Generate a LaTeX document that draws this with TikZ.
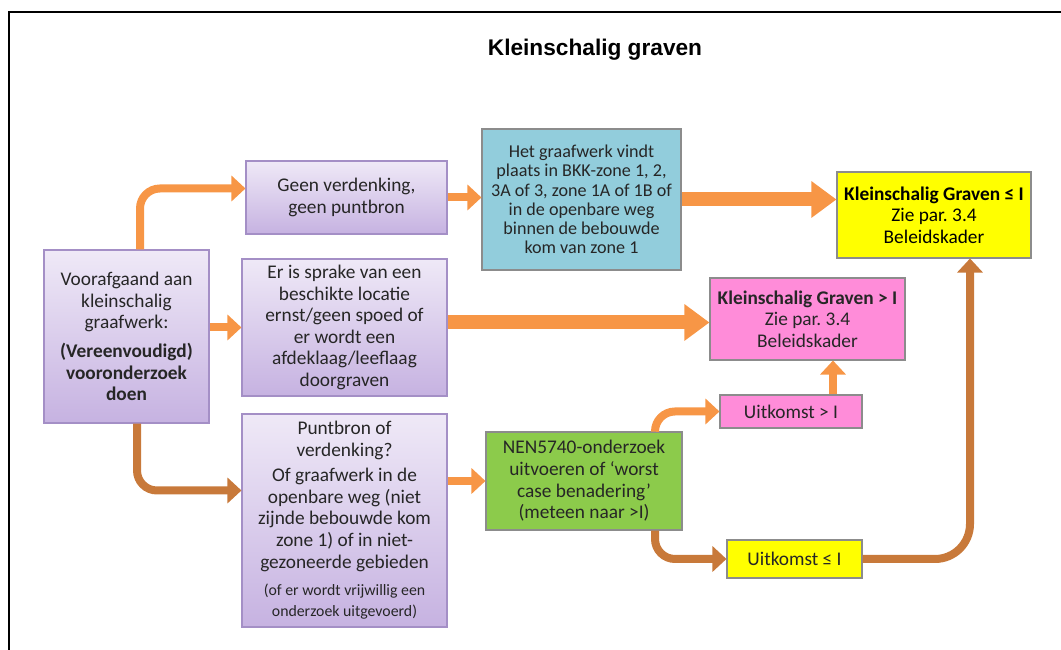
\documentclass[tikz,border=0pt]{standalone}
\usepackage{fontspec}
\setmainfont{Carlito}
\newfontfamily\titelfont{Liberation Sans}
\usetikzlibrary{arrows.meta,shadows}
\frenchspacing

\definecolor{paars1}{HTML}{EFE9F7}
\definecolor{paars2}{HTML}{C6B2E1}
\definecolor{paarsrand}{HTML}{A48FC6}
\definecolor{blauw}{HTML}{92CDDC}
\definecolor{geel}{HTML}{FFFF00}
\definecolor{roze}{HTML}{FF8CD9}
\definecolor{groen}{HTML}{8CCB4B}
\definecolor{oranje}{HTML}{F79646}
\definecolor{bruin}{HTML}{C8793A}

\begin{document}
\begin{tikzpicture}[
  blok/.style={line width=0.6pt, align=center, inner sep=1pt, text=black!85,
    font=\fontsize{11}{12.3}\selectfont,
    drop shadow={opacity=0.25,shadow xshift=0.8pt,shadow yshift=-0.8pt}},
  paars/.style={blok, draw=paarsrand, top color=paars1, bottom color=paars2},
  vlak/.style={blok, draw=black!45, fill=#1},
  pijl/.style={oranje, line width=0.16cm, rounded corners=0.4cm,
    -{Triangle[length=0.28cm,width=0.5cm]}},
  dikkepijl/.style={oranje, line width=0.28cm,
    -{Triangle[length=0.5cm,width=0.7cm]}},
  bruinepijl/.style={pijl, bruin}
]
\useasboundingbox (0,0) rectangle (21.22,13);
%\draw[step=1cm,gray,very thin] (0,0) grid (21.22,13); %background grid
\draw[line width=1.2pt] (0.18,0) -- (0.18,12.76) -- (21.22,12.76);

\node (titel) at (11.9,12.0) {\titelfont\bfseries\fontsize{12.9}{15}\selectfont Kleinschalig graven};

% linker kolom
\node[paars, minimum width=3.3cm, minimum height=3.46cm] (voor) at (2.53,6.27)
  {Voorafgaand aan\\ kleinschalig\\ graafwerk:\\[4pt] \textbf{(Vereenvoudigd)}\\ \textbf{vooronderzoek}\\ \textbf{doen}};

% middelste kolom
\node[paars, minimum width=4.02cm, minimum height=1.46cm] (geen) at (6.93,9.05)
  {Geen verdenking,\\ geen puntbron};
\node[paars, minimum width=4.1cm, minimum height=2.74cm] (sprake) at (6.89,6.45)
  {Er is sprake van een\\ beschikte locatie\\ ernst/geen spoed of\\ er wordt een\\ afdeklaag/leeflaag\\ doorgraven};
\node[paars, minimum width=4.1cm, minimum height=4.26cm] (punt) at (6.89,2.59)
  {Puntbron of\\ verdenking?\\[2pt] Of graafwerk in de\\ openbare weg (niet\\ zijnde bebouwde kom\\ zone 1) of in niet-\\ gezoneerde gebieden\\[3pt]
  {\fontsize{9}{10.4}\selectfont (of er wordt vrijwillig een}\\ {\fontsize{9}{10.4}\selectfont onderzoek uitgevoerd)}};

\node[vlak=blauw, minimum width=3.98cm, minimum height=2.82cm,
  font=\fontsize{10.3}{10.9}\selectfont] (bkk) at (11.63,9.01)
  {Het graafwerk vindt\\ plaats in BKK-zone 1, 2,\\ 3A of 3, zone 1A of 1B of\\ in de openbare weg\\ binnen de bebouwde\\ kom van zone 1};
\node[vlak=groen, minimum width=3.92cm, minimum height=1.96cm] (nen) at (11.68,3.38)
  {NEN5740-onderzoek\\ uitvoeren of ‘worst\\ case benadering’\\ (meteen naar >I)};

% rechter kolom
\node[vlak=geel, minimum width=3.88cm, minimum height=1.72cm, text=black] (kleinlaag) at (18.68,8.70)
  {\textbf{Kleinschalig Graven ≤ I}\\ Zie par. 3.4\\ Beleidskader};
\node[vlak=roze, minimum width=3.9cm, minimum height=1.64cm] (kleinhoog) at (16.15,6.62)
  {\textbf{Kleinschalig Graven > I}\\ Zie par. 3.4\\ Beleidskader};
\node[vlak=roze, minimum width=2.84cm, minimum height=0.66cm] (uithoog) at (15.82,4.77)
  {Uitkomst > I};
\node[vlak=geel, minimum width=2.7cm, minimum height=0.76cm] (uitlaag) at (15.89,1.82)
  {Uitkomst ≤ I};

% pijlen
\draw[pijl] ([xshift=0.27cm]voor.north) |- ([yshift=0.18cm]geen.west);
\draw[pijl] (voor.east |- sprake.west) -- (sprake.west);
\draw[bruinepijl] ([xshift=0.21cm]voor.south) |- ([yshift=0.6cm]punt.west);
\draw[pijl] (geen.east) -- (geen.east -| bkk.west);
\draw[dikkepijl] (bkk.east) -- (bkk.east -| kleinlaag.west);
\draw[dikkepijl] ([yshift=0.1cm]sprake.east) -- ([yshift=0.1cm]sprake.east -| kleinhoog.west);
\draw[pijl] (nen.west -| punt.east) -- (nen.west);
\draw[pijl] ([xshift=1.42cm]nen.north) |- (uithoog.west);
\draw[pijl] ([xshift=0.84cm]uithoog.north) -- ([xshift=0.84cm]uithoog.north |- kleinhoog.south);
\draw[bruinepijl] ([xshift=1.42cm]nen.south) |- (uitlaag.west);
\draw[bruinepijl, rounded corners=0.7cm] (uitlaag.east) -| ([xshift=0.72cm]kleinlaag.south);

\end{tikzpicture}
\end{document}
